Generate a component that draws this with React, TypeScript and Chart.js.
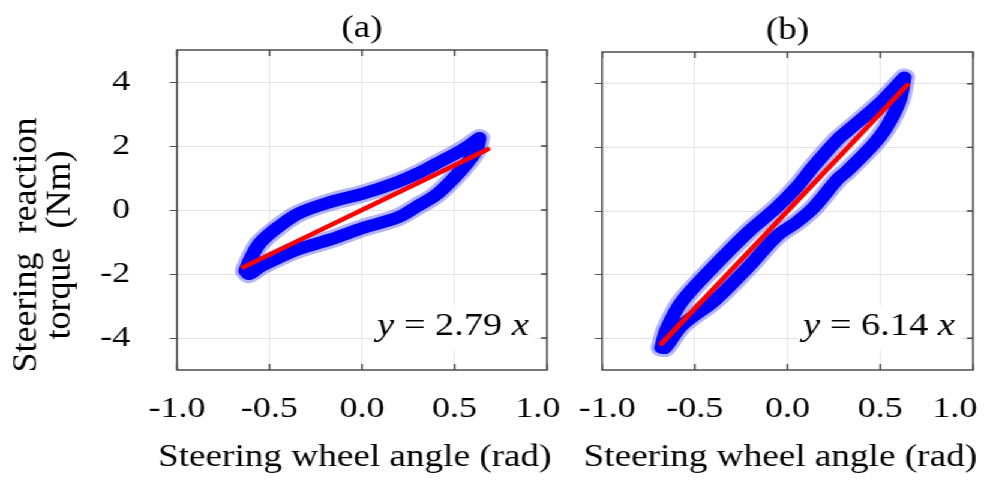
import React, { useEffect, useRef } from "react";
import { Chart, registerables } from "chart.js";

Chart.register(...registerables);

// Shared axis ticks
const xTickValues = [-1.0, -0.5, 0.0, 0.5, 1.0];
const yTickValues = [-4, -2, 0, 2, 4];

// (a) hysteresis band: upper branch left -> right, lower branch right -> left
const aUpperX = [-0.63, -0.6, -0.55, -0.45, -0.34, -0.17, 0.01, 0.19, 0.3, 0.4, 0.5, 0.58, 0.635];
const aUpperY = [-1.9, -1.5, -1.02, -0.52, -0.1, 0.25, 0.52, 0.87, 1.14, 1.44, 1.74, 2.02, 2.25];
const aLowerX = [0.635, 0.62, 0.57, 0.5, 0.4, 0.3, 0.19, 0.01, -0.17, -0.34, -0.45, -0.55, -0.61, -0.63];
const aLowerY = [2.25, 1.9, 1.48, 1.02, 0.47, 0.12, -0.24, -0.55, -0.92, -1.22, -1.49, -1.77, -2.0, -1.9];
const aSlope = 2.79;
const aFitX = [-0.64, 0.68];

// (b) hysteresis band
const bUpperX = [-0.68, -0.65, -0.57, -0.39, -0.21, -0.06, 0.05, 0.14, 0.27, 0.32, 0.5, 0.59, 0.63];
const bUpperY = [-4.3, -3.7, -2.85, -1.7, -0.65, 0.1, 0.75, 1.4, 2.25, 2.5, 3.4, 3.95, 4.2];
const bLowerX = [0.63, 0.6, 0.5, 0.32, 0.27, 0.14, 0.05, -0.06, -0.21, -0.39, -0.57, -0.66, -0.68];
const bLowerY = [4.2, 3.4, 2.35, 1.25, 1.0, 0.1, -0.35, -0.8, -1.75, -2.8, -3.6, -4.3, -4.3];
const bSlope = 6.14;
const bFitX = [-0.68, 0.645];

const xTitle = "Steering wheel angle (rad)";
const yTitleLines = ["Steering reaction", "torque (Nm)"];

const SERIF = '"Liberation Serif", "Times New Roman", serif';
const STRETCH = 1.2;

type PanelSpec = {
  label: string;
  upperX: number[];
  upperY: number[];
  lowerX: number[];
  lowerY: number[];
  slope: number;
  fitX: number[];
  showYLabels: boolean;
  pad: { top: number; right: number };
  yAxisWidth: number;
  noteRight: number;
  // blank padding that nudges the outermost x labels inward
  firstPrefix: string;
  lastSuffix: string;
};

const loopPoints = (ux: number[], uy: number[], lx: number[], ly: number[]) => [
  ...ux.map((x, i) => ({ x, y: uy[i] })),
  ...lx.map((x, i) => ({ x, y: ly[i] })),
];

function decorPlugin(spec: PanelSpec) {
  return {
    id: "panelDecor",
    afterDraw(chart: any) {
      const { ctx, chartArea: a, scales } = chart;
      ctx.save();

      // equation box
      const base = a.bottom - 35;
      const right = a.right - spec.noteRight;
      ctx.font = `32px ${SERIF}`;
      const mid = ` = ${spec.slope.toFixed(2)} `;
      const wMid = ctx.measureText(mid).width;
      ctx.font = `italic 32px ${SERIF}`;
      const wY = ctx.measureText("y").width;
      const wX = ctx.measureText("x").width;
      const left = right - (wY + wMid + wX);
      ctx.fillStyle = "#ffffff";
      ctx.fillRect(left - 4, base - 30, wY + wMid + wX + 9, 45);
      ctx.fillStyle = "#000000";
      ctx.textBaseline = "alphabetic";
      ctx.textAlign = "left";
      ctx.fillText("y", left, base);
      ctx.font = `32px ${SERIF}`;
      ctx.fillText(mid, left + wY, base);
      ctx.font = `italic 32px ${SERIF}`;
      ctx.fillText("x", left + wY + wMid, base);

      // frame and inner tick marks
      ctx.strokeStyle = "#404040";
      ctx.lineWidth = 1.4;
      ctx.strokeRect(a.left, a.top, a.right - a.left, a.bottom - a.top);
      ctx.beginPath();
      for (const v of xTickValues) {
        const px = scales.x.getPixelForValue(v);
        ctx.moveTo(px, a.bottom);
        ctx.lineTo(px, a.bottom - 6);
        ctx.moveTo(px, a.top);
        ctx.lineTo(px, a.top + 6);
      }
      for (const v of yTickValues) {
        const py = scales.y.getPixelForValue(v);
        ctx.moveTo(a.right, py);
        ctx.lineTo(a.right - 5, py);
      }
      ctx.stroke();

      // panel label
      ctx.fillStyle = "#000000";
      ctx.font = `31px ${SERIF}`;
      ctx.textAlign = "center";
      ctx.textBaseline = "middle";
      ctx.fillText(spec.label, (a.left + a.right) / 2, a.top - 21);

      // x-axis title
      ctx.textBaseline = "alphabetic";
      ctx.fillText(xTitle, (a.left + a.right) / 2 - 6, 466);

      // y-axis title, two rotated lines
      if (spec.showYLabels) {
        ctx.font = `36px ${SERIF}`;
        const cols = [22.5, 50.8];
        yTitleLines.forEach((line, i) => {
          ctx.save();
          ctx.translate(cols[i], 245);
          ctx.rotate(-Math.PI / 2);
          ctx.scale(1, 0.8);
          (ctx as any).wordSpacing = "10px";
          ctx.textAlign = "center";
          ctx.textBaseline = "middle";
          ctx.fillText(line, 0, 0);
          ctx.restore();
        });
      }
      ctx.restore();
    },
  };
}

function makeConfig(spec: PanelSpec): any {
  const loop = loopPoints(spec.upperX, spec.upperY, spec.lowerX, spec.lowerY);
  const fit = spec.fitX.map((x) => ({ x, y: spec.slope * x }));
  const lastIdx = xTickValues.length - 1;
  // dataset 0 is painted last, so the fitted line sits on top of the band
  return {
    type: "scatter",
    data: {
      datasets: [
        {
          data: fit,
          showLine: true,
          tension: 0,
          borderColor: "#ff0000",
          borderWidth: 4.5,
          borderCapStyle: "round",
          pointRadius: 0,
          fill: false,
        },
        {
          data: loop,
          showLine: true,
          tension: 0.35,
          borderColor: "#0000ff",
          borderWidth: 12,
          borderCapStyle: "round",
          borderJoinStyle: "round",
          pointRadius: 0,
          fill: false,
        },
        {
          data: loop,
          showLine: true,
          tension: 0.35,
          borderColor: "rgba(0,0,255,0.3)",
          borderWidth: 18,
          borderCapStyle: "round",
          borderJoinStyle: "round",
          pointRadius: 0,
          fill: false,
        },
      ],
    },
    options: {
      animation: false,
      responsive: true,
      maintainAspectRatio: false,
      events: [],
      layout: {
        autoPadding: false,
        padding: { top: spec.pad.top, right: spec.pad.right, bottom: 0, left: 0 },
      },
      plugins: { legend: { display: false }, tooltip: { enabled: false }, title: { display: false } },
      scales: {
        x: {
          type: "linear",
          min: -1,
          max: 1,
          afterBuildTicks: (s: any) => {
            s.ticks = xTickValues.map((value) => ({ value }));
          },
          afterFit: (s: any) => {
            s.height = 110;
            s.paddingLeft = 0;
            s.paddingRight = 0;
          },
          border: { display: false },
          grid: { color: "#e4e4e4", lineWidth: 1, drawTicks: false },
          ticks: {
            padding: 21,
            color: "#000",
            font: { family: SERIF, size: 30 },
            maxRotation: 0,
            callback: (v: number, i: number) => {
              const t = Number(v).toFixed(1);
              if (i === 0) return spec.firstPrefix + t;
              if (i === lastIdx) return t + spec.lastSuffix;
              return t;
            },
          },
        },
        y: {
          type: "linear",
          min: -5,
          max: 5,
          afterBuildTicks: (s: any) => {
            s.ticks = yTickValues.map((value) => ({ value }));
          },
          afterFit: (s: any) => {
            s.width = spec.yAxisWidth;
            s.paddingTop = 0;
            s.paddingBottom = 0;
          },
          border: { display: false },
          grid: { color: "#e4e4e4", lineWidth: 1, drawTicks: true, tickLength: 6, tickColor: "#555" },
          ticks: {
            display: spec.showYLabels,
            padding: 33,
            color: "#000",
            font: { family: SERIF, size: 30 },
            callback: (v: number) => String(v),
          },
        },
      },
    },
    plugins: [decorPlugin(spec)],
  };
}

const panelA: PanelSpec = {
  label: "(a)",
  upperX: aUpperX,
  upperY: aUpperY,
  lowerX: aLowerX,
  lowerY: aLowerY,
  slope: aSlope,
  fitX: aFitX,
  showYLabels: true,
  pad: { top: 50, right: 24.2 },
  yAxisWidth: 147.5,
  noteRight: 15,
  firstPrefix: "",
  lastSuffix: "\u2007",
};

const panelB: PanelSpec = {
  label: "(b)",
  upperX: bUpperX,
  upperY: bUpperY,
  lowerX: bLowerX,
  lowerY: bLowerY,
  slope: bSlope,
  fitX: bFitX,
  showYLabels: false,
  pad: { top: 52, right: 17.2 },
  yAxisWidth: 41.7,
  noteRight: 15,
  firstPrefix: "\u2009\u200A",
  lastSuffix: "\u2007\u2007",
};

function Panel({ spec, left, width }: { spec: PanelSpec; left: number; width: number }) {
  const ref = useRef<HTMLCanvasElement | null>(null);
  useEffect(() => {
    if (!ref.current) return;
    const chart = new Chart(ref.current, makeConfig(spec));
    return () => chart.destroy();
  }, [spec]);
  return (
    <div style={{ position: "absolute", left, top: 0, width, height: 480 }}>
      <canvas ref={ref} />
    </div>
  );
}

export default function App() {
  return (
    <div
      style={{
        position: "absolute",
        left: 0,
        top: 0,
        width: 828,
        height: 480,
        background: "#fff",
        transform: `scaleX(${STRETCH})`,
        transformOrigin: "0 0",
        overflow: "hidden",
      }}
    >
      <Panel spec={panelA} left={0} width={480} />
      <Panel spec={panelB} left={460} width={368} />
    </div>
  );
}
